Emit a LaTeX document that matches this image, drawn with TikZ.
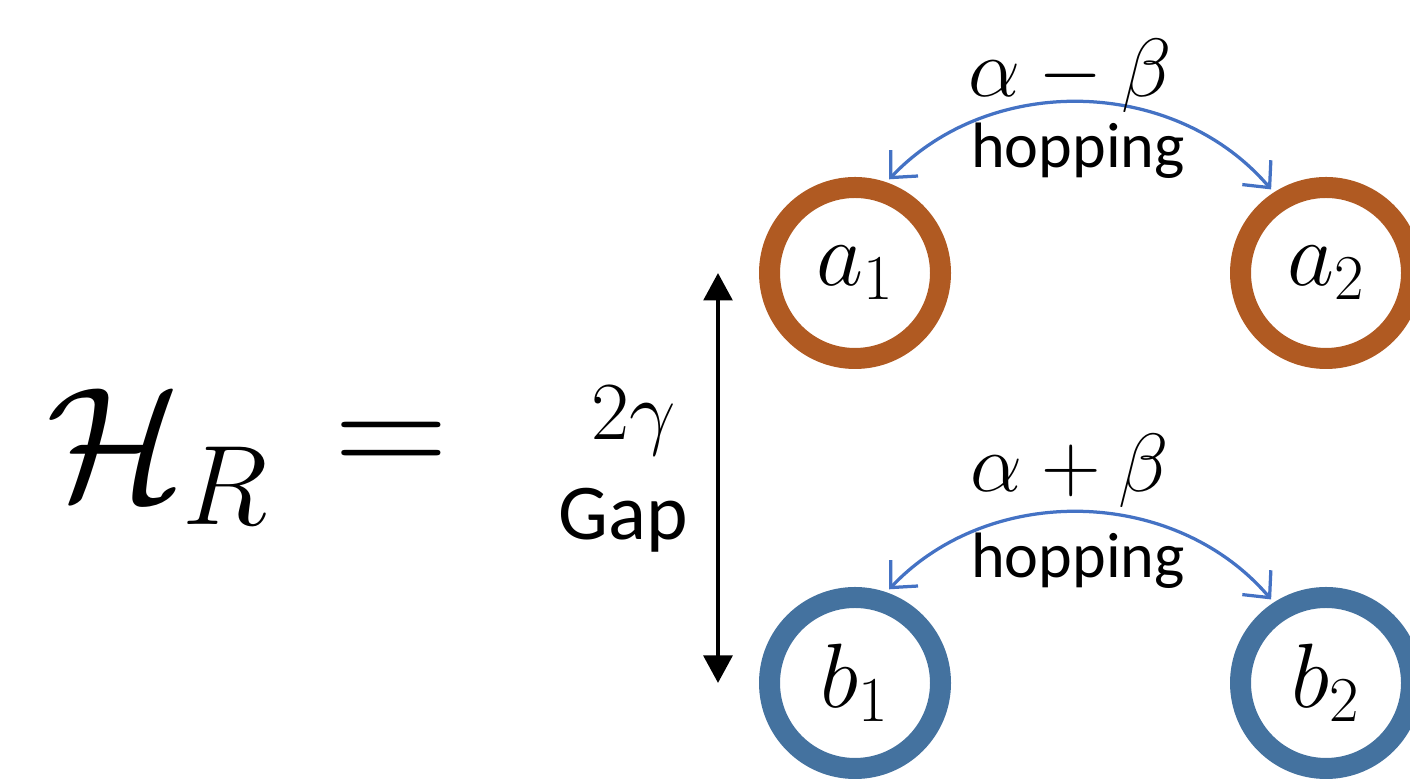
\documentclass[tikz,border=0pt]{standalone}
\usepackage{fix-cm}
\usepackage[no-math]{fontspec}
\setmainfont{Carlito}
\usetikzlibrary{arrows.meta,positioning,calc}
\definecolor{rust}{HTML}{B05A22}
\definecolor{steel}{HTML}{44729F}
\definecolor{hop}{HTML}{4472C4}
\tikzset{
  site/.style={circle, draw, line width=0.42cm, minimum size=3.42cm, inner sep=0pt,
    font=\fontsize{50}{60}\selectfont},
  hopline/.style={hop, line width=0.065cm,
    {Straight Barb[length=0.4cm,width=0.75cm]}-{Straight Barb[length=0.4cm,width=0.75cm]},
    shorten <=0.08cm, shorten >=0.08cm},
  gapline/.style={black, line width=0.09cm,
    {Triangle[length=0.55cm,width=0.57cm]}-{Triangle[length=0.55cm,width=0.57cm]}},
  amp/.style={anchor=base, font=\fontsize{47}{56}\selectfont},
  word/.style={anchor=base, font=\fontsize{36.5}{44}\selectfont},
}
\begin{document}
\begin{tikzpicture}
 \useasboundingbox (0,0) rectangle (28.2,15.6);
 % left-hand side
 \node[anchor=base west, font=\fontsize{92}{110}\selectfont] (ham) at (0.8,5.6) {$\mathcal{H}_R$};
 \node[font=\fontsize{90}{108}\selectfont] (eq) at (7.82,6.6) {$=$};
 % the four sites
 \node[site, rust]  (a1) at (17.10,10.14) {};
 \node[site, rust]  (a2) at (26.52,10.14) {};
 \node[site, steel] (b1) at (17.10,1.94) {};
 \node[site, steel] (b2) at (26.52,1.94) {};
 \node[font=\fontsize{52}{62}\selectfont] at (a1) {$a_1$};
 \node[font=\fontsize{52}{62}\selectfont] at (a2) {$a_2$};
 \node[font=\fontsize{52}{62}\selectfont] at (b1) {$b_1$};
 \node[font=\fontsize{52}{62}\selectfont] at (b2) {$b_2$};
 % hopping
 \draw[hopline] (a1.71) to[bend left=48] (a2.123);
 \draw[hopline] (b1.71) to[bend left=48] (b2.123);
 \node[amp]  (tam) at (21.4,13.66) {$\alpha-\beta$};
 \node[word] (thop) at (21.56,12.24) {hopping};
 \node[amp]  (bam) at (21.4,5.76) {$\alpha+\beta$};
 \node[word] (bhop) at (21.56,4.04) {hopping};
 % gap
 \coordinate (gx) at (14.36,0);
 \draw[gapline] (a1 -| gx) -- (b1 -| gx);
 \node[amp] (gam) at (12.68,6.8) {$2\gamma$};
 \node[anchor=base, font=\fontsize{45}{54}\selectfont] (gap) at (12.46,4.8) {Gap};
\end{tikzpicture}
\end{document}
